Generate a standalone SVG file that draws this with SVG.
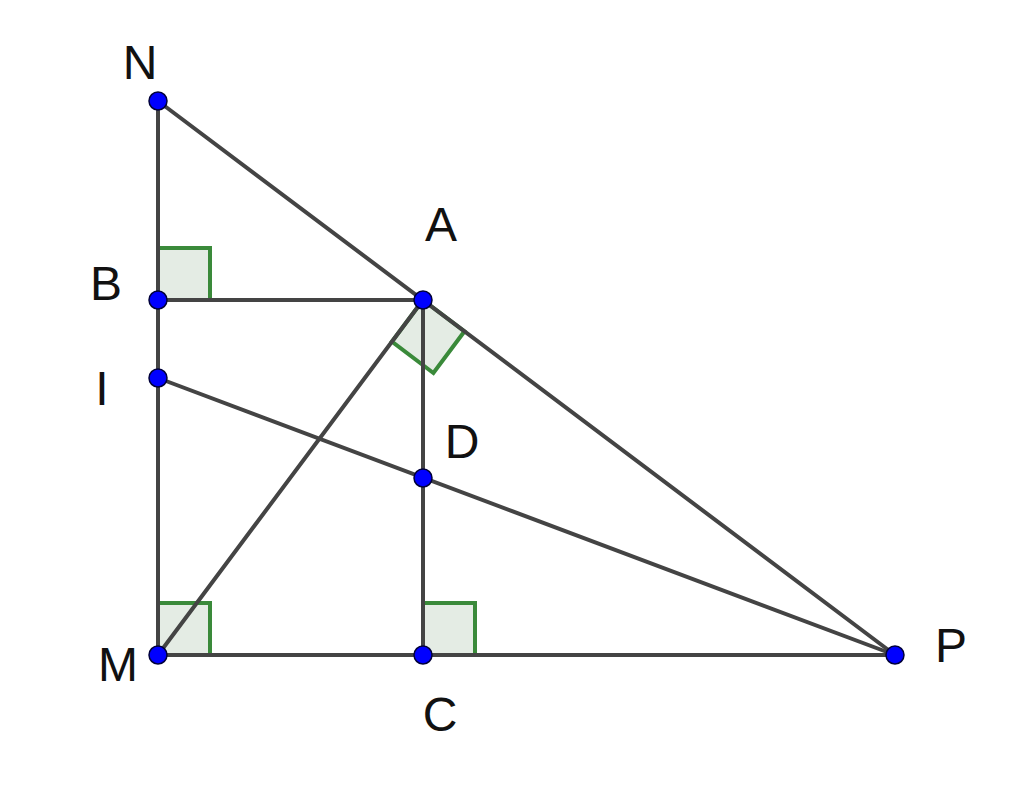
<svg xmlns="http://www.w3.org/2000/svg" width="1024" height="785" viewBox="0 0 1024 785">
<style>
.ra{fill:#e4ece4;stroke:#3a8a3a;stroke-width:4;stroke-linejoin:miter}
.ln{stroke:#444;stroke-width:4;stroke-linecap:round;fill:none}
.pt{fill:#0000ff;stroke:#00003a;stroke-width:1.5}
.lb{font-family:"Liberation Sans",Arial,sans-serif;font-size:48px;fill:#111;text-anchor:middle}
</style>
<rect width="1024" height="785" fill="#fff"/>
<g id="angles">
<path class="ra" d="M158,248 H210 V300 H158 Z"/>
<path class="ra" d="M158,603 H210 V655 H158 Z"/>
<path class="ra" d="M423,603 H475 V655 H423 Z"/>
<path class="ra" d="M423,300 L391.9,341.7 L433.4,373 L464.5,331.3 Z"/>
</g>
<g id="connectors">
<line class="ln" x1="158" y1="101" x2="158" y2="655"/>
<line class="ln" x1="158" y1="655" x2="895" y2="655"/>
<line class="ln" x1="158" y1="101" x2="895" y2="655"/>
<line class="ln" x1="158" y1="300" x2="423" y2="300"/>
<line class="ln" x1="423" y1="300" x2="423" y2="655"/>
<line class="ln" x1="158" y1="655" x2="423" y2="300"/>
<line class="ln" x1="158" y1="378" x2="895" y2="655"/>
</g>
<g id="N"><circle class="pt" cx="158" cy="101" r="9"/><text class="lb" x="140" y="79">N</text></g>
<g id="A"><circle class="pt" cx="423" cy="300" r="9"/><text class="lb" x="441" y="241">A</text></g>
<g id="B"><circle class="pt" cx="158" cy="300" r="9"/><text class="lb" x="106" y="300">B</text></g>
<g id="I"><circle class="pt" cx="158" cy="378" r="9"/><text class="lb" x="102" y="405">I</text></g>
<g id="D"><circle class="pt" cx="423" cy="478" r="9"/><text class="lb" x="462" y="458">D</text></g>
<g id="M"><circle class="pt" cx="158" cy="655" r="9"/><text class="lb" x="118" y="681">M</text></g>
<g id="C"><circle class="pt" cx="423" cy="655" r="9"/><text class="lb" x="440" y="731">C</text></g>
<g id="P"><circle class="pt" cx="895" cy="655" r="9"/><text class="lb" x="951" y="662">P</text></g>
</svg>
